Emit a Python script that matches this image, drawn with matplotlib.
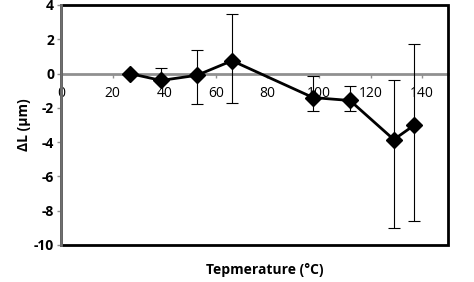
import matplotlib
matplotlib.use("Agg")
import matplotlib.pyplot as plt
from matplotlib.patches import Rectangle

temperature = [26.7, 38.8, 52.7, 66.3, 97.7, 112.0, 129.0, 137.0]
delta_L = [0.0, -0.4, -0.1, 0.75, -1.4, -1.57, -3.85, -3.0]
err_upper = [0.0, 0.3, 1.35, 3.45, -0.12, -0.7, -0.35, 1.7]
err_lower = [0.0, -0.5, -1.8, -1.7, -2.2, -2.2, -9.0, -8.6]
x_ticks = [0, 20, 40, 60, 80, 100, 120, 140]
y_ticks = [-10, -8, -6, -4, -2, 0, 2, 4]

plt.rcParams['font.family'] = ['Open Sans', 'DejaVu Sans']
fig = plt.figure(figsize=(4.74, 2.82), dpi=100)
ax = fig.add_axes([61/474, 1-245/282, (448-61)/474, (245-5)/282])

yerr = [[d - l for d, l in zip(delta_L, err_lower)], [u - d for d, u in zip(delta_L, err_upper)]]
ax.errorbar(temperature, delta_L, yerr=yerr, fmt='none', ecolor='black', elinewidth=0.8, capsize=4, capthick=0.8, zorder=3)
ax.plot(temperature, delta_L, color='black', lw=2, marker='D', markersize=8, zorder=4)

ax.set_xlim(0, 150)
ax.set_ylim(-10, 4)
ax.set_xticks(x_ticks)
ax.set_yticks(y_ticks)
ax.set_xticklabels([str(t) for t in x_ticks], fontsize=10, fontweight='bold')
ax.set_yticklabels([str(t) for t in y_ticks], fontsize=10, fontweight='bold')

for s in ['top', 'right']:
    ax.spines[s].set_visible(False)
ax.spines['bottom'].set_position(('data', 0))
ax.spines['bottom'].set_color('#909090')
ax.spines['bottom'].set_linewidth(2)
ax.spines['left'].set_color('#707070')
ax.spines['left'].set_linewidth(2)
ax.tick_params(axis='x', colors='#909090', labelcolor='black', length=3, width=1, direction='out', pad=6)
ax.tick_params(axis='y', colors='#909090', labelcolor='black', length=3, width=1, direction='out', pad=2)

ax.add_patch(Rectangle((0, 0), 1, 1, transform=ax.transAxes, fill=False, ec='black', lw=2, zorder=5, clip_on=False))
ax.spines['left'].set_zorder(6)

ax.set_ylabel('ΔL (μm)', fontsize=10, fontweight='bold', labelpad=2)
fig.text(265/474, 1-270/282, 'Tepmerature (°C)', ha='center', va='center', fontsize=10, fontweight='bold')

fig.savefig('out.png', dpi=100)
